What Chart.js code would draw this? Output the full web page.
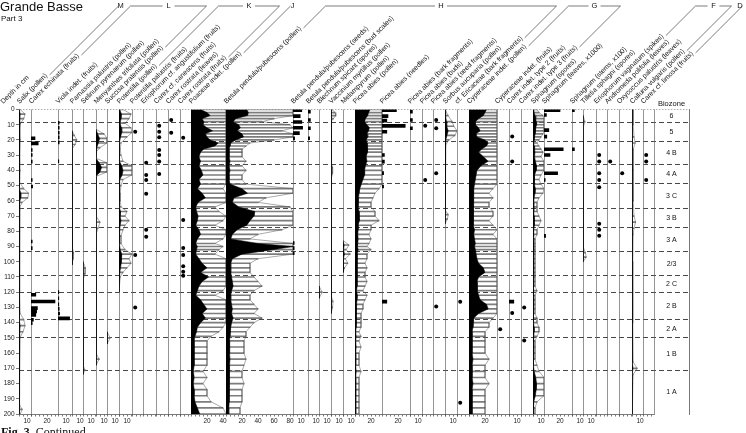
<!DOCTYPE html>
<html>
<head>
<meta charset="utf-8">
<title>Grande Basse - Part 3</title>
<script src="https://cdn.jsdelivr.net/npm/chart.js@4.4.1/dist/chart.umd.min.js"></script>
<style>
  html, body { margin: 0; padding: 0; background: #fff; }
  #wrap { position: relative; width: 746px; height: 433px; overflow: hidden; }
  #diagram { position: absolute; left: 0; top: 0; }
  .txt { position: absolute; white-space: nowrap; color: #111; font-family: "Liberation Sans", Arial, sans-serif; line-height: 1; }
</style>
</head>
<body>
<div id="wrap">
  <canvas id="diagram" width="746" height="433"></canvas>
  <div class="txt" style="left:0;top:0;font-size:13px">Grande Basse</div>
  <div class="txt" style="left:1px;top:15px;font-size:8px">Part 3</div>
  <div class="txt" style="left:1px;top:426px;font-size:12px;font-family:'Liberation Serif',serif"><b>Fig. 3</b>&nbsp; Continued</div>
</div>
<script>
// ---- pollen sample depths (cm) and the main pollen curves (%) ----
const pollenDepth = [0,2,4,6,8,10,12,14,16,18,20,22,24,26,28,31,34,37,40,43,46,49,52,55,58,61,64,67,70,73,76,79,82,85,88,90,92,95,98,101,104,107,110,113,116,119,122,125,128,131,134,137,140,143,146,149,152,156,160,164,168,172,176,180,184,188,192,196,200];
const poaceae = [12,20,24,14,16,15,20,27,18,20,24,34,30,16,12, 10,12,10,13,15,10,12,8,14,18,9,6,7,9,8,6,10,12,8,6, 8,7,6,10,14,20,12,22,14,10,8,6,12,16,20,14,18,12,8,7,5,4, 4,4,4,4,3,4,3,4,4,5,8,11];
const betula = [26,28,27,12,9,16,18,14,20,22,12,6,5,4,4, 4,5,4,5,4,4,5,20,27,10,8,16,36,35,30,26,14,8,6,40, 84,60,20,8,6,6,6,7,8,9,7,6,6,7,8,7,9,7,6,5,5,4.5, 4.5,4.5,5,4.5,4,4,4.5,4,4,4,3.5,3.5];
const picea = [19,17,16,13,12,15,18,17,15,16,14,15,16,15,16, 14,15,13,12,12,10,8,6,5,4.5,4,4,5,5,6,4,4,3.5,4,3.5, 3,4,3,3,2.5,3,2.5,2.5,3,2.5,2,3,2.5,2,2,1.5,1.5,1.5,1.5,1,1.5,1, 1.5,1,1,1,1.5,1,1,1,1,1,1,1];
const cyperaceae = [22,20,18,12,8,8,12,14,9,10,20,24,22,16,12, 18,24,15,10,9,8,7,6,5,6,5,5,6,6,5,6,7,6,7,8, 7,8,9,10,12,18,20,12,10,11,10,12,14,22,24,12,6,5,5,4,4,4, 4,4,5,4,4,4,5,4,4,4,4,4];
const sphagnumSpores = [1,1.5,2.5,3.5,4,4.5,3.5,3,2.5,2,1.5,1,1.5,2,2.5, 2,3,4.5,4,2,1.5,2,3,2.5,1.5,1,1,1,1.5,2,1.5,1,1,0.5,0.5, 0.5,0.5,0.5,0.5,0.5,0.5,0.5,0.5,0.5,0.5,1,0.5,0.5,0.5,0.5,0.5,1,1,1.5,1.5,1,0.5, 0.5,0.5,0.5,1,1.5,3.5,4.5,4,3,1,0.5,0.5];

// ---- minor pollen / spore curves (own sample depths, %) ----
const salixDepth = [0,3,6,9,12,20,30,40,48,52,55,58,61,64,80,100,120,134,138,142,146,150,160,180,194,197,200];
const salixPct = [0.3,1.5,1.2,0.4,0.2,0.3,0.2,0.3,0.2,1.2,2.4,2.2,0.8,0.2,0.2,0.1,0.2,0.3,1.2,1.5,1,0.2,0.1,0.1,0.2,0.8,0.3];
const parnassiaDepth = [14,17,20,23,26,90,94,98,102];
const parnassiaPct = [0,0.6,1.2,0.8,0,0,0.4,0.3,0];
const selinumDepth = [100,104,108,112,168,171,174];
const selinumPct = [0,0.6,0.5,0,0,0.5,0];
const menyanthesDepth = [13,16,19,22,25,28,32,35,38,41,44,70,74,78,82,160,164,168];
const menyanthesPct = [0,2,4.5,3,1,0,0,4,7,5,0,0,1,0.5,0,0,0.8,0];
const succisaDepth = [146,150,154];
const succisaPct = [0,0.8,0];
const potentillaDepth = [0,3,6,9,12,15,18,22,26,30,34,37,40,43,46,50,55,60,64,67,70,73,76,79,83,88,92,95,98,101,104,107,110,120];
const potentillaPct = [1,3,2.5,1.5,3,3.5,2,0.5,0.3,0.5,1,3.5,5,4,1,0.5,0.3,0.3,0.5,2,1.5,2.5,1.5,1,0.5,0.5,1.5,3.5,2.5,3,2,1,0.3,0];
const blechnumDepth = [116,120,124];
const blechnumPct = [0,0.8,0];
const vacciniumDepth = [0,2,4,6,8,34,38,42,46,122,126,130,134];
const vacciniumPct = [0.3,1,1.2,0.6,0,0,0.4,0.4,0,0,0.5,0.4,0];
const melampyrumDepth = [86,89,92,95,98,101,104,107];
const melampyrumPct = [0,1.5,0.8,1.8,0.6,1.2,0.4,0];
const sorbusDepth = [0,4,8,11,14,17,20,24,66,69,72,75];
const sorbusPct = [0,0.8,1.8,2.2,4,2.5,1,0,0,0.8,0.6,0];
const tilletiaDepth = [4,8,12,90,94,97,100];
const tilletiaPct = [0,0.5,0,0,0.6,0.8,0];
const callunaDepth = [0,10,18,22,26,40,60,70,74,78,82,100,140,166,170,174,180,200];
const callunaPct = [0.3,0.3,0.5,0.8,0.3,0.3,0.3,0.5,0.9,0.5,0.3,0.2,0.2,0.3,1.3,0.3,0.2,0.1];

// ---- macrofossil counts (bars) ----
const echinataDepth = [18.9,22.2,26.6,29.9,34.2,46.3,50.6,86.7,91,121.7,126.1,130.5,132.7,134.9,138.1,140.3];
const echinataCount = [5,9,1.5,1.5,1.5,1.5,2,1.5,1.5,6,30,8,7,6,3,1.5];
const violaDepth = [8.7,12,15.3,18.3,21.6,34,120,124,128,131,134,137.2];
const violaCount = [1.5,1.5,1.5,1.5,1.5,1,1,1,1,1.5,2,14.5];
const betulaSeedDepth = [0.5,4.3,8.2,12,15.5,19,87.7,91,94.4];
const betulaSeedCount = [11,9,11,12,8,2,1.5,1.5,1.5];
const budScaleDepth = [1.4,6.9,12.3,18.9];
const budScaleCount = [3,3,3,2];
const needleDepth = [0.5,4.3,7.3,10.8,14.6,29.9,34.2,41.8,50.6,126.2];
const needleCount = [18,7.5,6,29,6,3,3,2,2,6];
const barkDepth = [1.4,6.9,12.3];
const barkCount = [3,3,3];
const carex2Depth = [126.2];
const carex2Count = [6];
const sphLeafDepth = [0.5,3.6,13.5,17.8,26.1,29.9,41.9,46.3,83];
const sphLeafCount = [20,3,6,3.5,24,7.5,17,1.5,2];
const sphStemDepth = [0.5,26.1];
const sphStemCount = [3,3];

// ---- macrofossil presence (dots), depths ----
const potPalDots = [14.6,95.5,130];
const erioAngDots = [34.9,43,46.3,55.4,79,83.5];
const canescensDots = [10.6,14.6,18.3,26.6,29.9,34.2,42.3];
const rostrataLeafDots = [6.9,15.2];
const rostrataFruitDots = [18.5,72.5,91,95.5,103,106.5,109.2];
const piceaBudDots = [10.6,46.3];
const piceaSeedDots = [6.9,12.3,41.9,129.4];
const ericaceaeDots = [126.2,192.6];
const cypFruitDots = [144.3];
const carex2Dots = [17.8,34.2,133.6];
const carex3Dots = [130,151.7];
const erioVagDots = [29.9,34.2,41.9,46.3,51,75.1,79,83];
const andromedaDots = [34.2];
const oxycoccusDots = [41.9];
const limosaDots = [29.9,34.2,46.3];
const presence = 4; // presence-only finds sit at a nominal 4 on the count scale

// ---- columns, tick labels, zones, groups ----
const taxa = [
  "Salix (pollen)", "Carex echinata (fruits)", "Viola indet. (fruits)", "Parnassia palustris (pollen)",
  "Selinum pyrenaeum (pollen)", "Menyanthes trifoliata (pollen)", "Succisa pratensis (pollen)", "Potentilla (pollen)",
  "Potentilla palustris (fruits)", "Eriophorum cf. angustifolium (fruits)", "Carex cf. canescens (fruits)",
  "Carex rostrata (leaves)", "Carex rostrata (fruits)", "Poaceae indet. (pollen)", "Betula pendula/pubescens (pollen)",
  "Betula pendula/pubescens (seeds)", "Betula pendula/pubescens (bud scales)", "Blechnum spicant (spores)",
  "Vaccinium myrtillus (pollen)", "Melampyrum (pollen)", "Picea abies (pollen)", "Picea abies (needles)",
  "Picea abies (bark fragments)", "Picea abies (buds)", "Picea abies (seed fragments)", "Sorbus aucuparia (pollen)",
  "cf. Ericaceae (bark fragments)", "Cyperaceae indet. (pollen)", "Cyperaceae indet. (fruits)",
  "Carex indet. type 2 (fruits)", "Carex indet. type 3 (fruits)", "Sphagnum (spores)", "Sphagnum (leaves, x1000)",
  "Sphagnum (stems, x100)", "Tilletia sphagni (spores)", "Eriophorum vaginatum (spikes)", "Andromeda polifolia (leaves)",
  "Oxycoccus palustris (leaves)", "Calluna vulgaris (pollen)", "Carex cf. limosa (fruits)"
];
const colWidths = [12,27,14,11,13,11,12,13,11,13,12,12,11,35,67,15,11,12,12,12,27,28,12,11,12,12,12,28,12,12,12,11,28,11,13,11,12,13,11,11];
const bioWidth = 35;
const tickLabels = [[10],[20],[10],[10],[10],[10],[10],[10],[],[],[],[],[],[20,40],[20,40,60,80],[10],[10],[10],[10],[10],[20],[20],[10],[],[],[10],[],[20],[],[10],[],[10],[20],[10],[10],[],[],[],[10],[]];
const zoneBounds = [8.7,20.7,36.4,48.9,65.3,77.6,93.5,109,120.4,138,150,171.4];
const zoneNames = ['6','5','4 B','4 A','3 C','3 B','3 A','2/3','2 C','2 B','2 A','1 B','1 A'];
const groups = [
  {letter: 'M', first: 0, last: 0}, {letter: 'L', first: 1, last: 6}, {letter: 'K', first: 7, last: 12},
  {letter: 'J', first: 13, last: 13}, {letter: 'H', first: 14, last: 26}, {letter: 'G', first: 27, last: 30},
  {letter: 'F', first: 35, last: 38}, {letter: 'D', first: 39, last: 39}
];

const unitPx = 0.8;      // 1 % (or 1 find) = 0.8 px in every column
const exaggeration = 5;

const pollenCols = {
  0: [salixDepth, salixPct], 3: [parnassiaDepth, parnassiaPct], 4: [selinumDepth, selinumPct],
  5: [menyanthesDepth, menyanthesPct], 6: [succisaDepth, succisaPct], 7: [potentillaDepth, potentillaPct],
  13: [pollenDepth, poaceae], 14: [pollenDepth, betula], 17: [blechnumDepth, blechnumPct],
  18: [vacciniumDepth, vacciniumPct], 19: [melampyrumDepth, melampyrumPct], 20: [pollenDepth, picea],
  25: [sorbusDepth, sorbusPct], 27: [pollenDepth, cyperaceae], 31: [pollenDepth, sphagnumSpores],
  34: [tilletiaDepth, tilletiaPct], 38: [callunaDepth, callunaPct]
};
const barCols = {
  1: [echinataDepth, echinataCount], 2: [violaDepth, violaCount], 15: [betulaSeedDepth, betulaSeedCount],
  16: [budScaleDepth, budScaleCount], 21: [needleDepth, needleCount], 22: [barkDepth, barkCount],
  29: [carex2Depth, carex2Count], 32: [sphLeafDepth, sphLeafCount], 33: [sphStemDepth, sphStemCount]
};
const dotCols = {
  8: potPalDots, 9: erioAngDots, 10: canescensDots, 11: rostrataLeafDots, 12: rostrataFruitDots,
  23: piceaBudDots, 24: piceaSeedDots, 26: ericaceaeDots, 28: cypFruitDots, 29: carex2Dots,
  30: carex3Dots, 35: erioVagDots, 36: andromedaDots, 37: oxycoccusDots, 39: limosaDots
};

Chart.defaults.font.family = '"Liberation Sans", Arial, sans-serif';
Chart.defaults.color = '#222';

const datasets = [];
const colMax = i => colWidths[i] / unitPx;

Object.entries(pollenCols).forEach(([i, [depths, vals]]) => {
  const id = 'x' + i;
  const cap = colMax(i);
  const curve = depths.map((d, k) => ({x: vals[k], y: d}));
  const exag = depths.map((d, k) => ({x: Math.min(vals[k] * exaggeration, cap), y: d}));
  datasets.push({type: 'line', xAxisID: id, yAxisID: 'y', data: curve, borderColor: '#000', borderWidth: 0.5,
    backgroundColor: '#000', fill: 'origin', pointRadius: 0, tension: 0, order: 1});
  datasets.push({type: 'line', xAxisID: id, yAxisID: 'y', data: exag, borderColor: '#555', borderWidth: 0.5,
    fill: false, pointRadius: 0, tension: 0, order: 2});
  datasets.push({type: 'bar', xAxisID: id, yAxisID: 'y', data: exag, backgroundColor: '#7d7d7d',
    barThickness: 1, grouped: false, order: 3});
});

Object.entries(barCols).forEach(([i, [depths, counts]]) => {
  datasets.push({type: 'bar', xAxisID: 'x' + i, yAxisID: 'y', data: depths.map((d, k) => ({x: counts[k], y: d})),
    backgroundColor: '#000', barThickness: 3, grouped: false, order: 0});
});

Object.entries(dotCols).forEach(([i, depths]) => {
  datasets.push({type: 'line', xAxisID: 'x' + i, yAxisID: 'y', data: depths.map(d => ({x: presence, y: d})),
    showLine: false, pointRadius: 2, pointBorderWidth: 0, pointBackgroundColor: '#000', order: 0});
});

const scales = {
  y: {
    type: 'linear', position: 'left', reverse: true, min: 0, max: 200, offset: false,
    afterBuildTicks: s => { s.ticks = Array.from({length: 21}, (_, k) => ({value: k * 10})); },
    afterFit: s => { s.width = 19; },
    ticks: {autoSkip: false, padding: 1.5, font: {size: 6.5}, color: '#222'},
    grid: {offset: false, drawOnChartArea: true, color: c => (c.tick && c.tick.value === 0) ? '#888' : 'rgba(0,0,0,0)',
      tickColor: '#444', tickLength: 3, lineWidth: 0.7},
    border: {color: '#444', width: 0.8, dash: [1.5, 1.5]}
  },
  zones: {
    type: 'linear', position: 'right', reverse: true, min: 0, max: 200, offset: false,
    afterBuildTicks: s => { s.ticks = zoneBounds.map(v => ({value: v})); },
    afterFit: s => { s.width = 0; },
    ticks: {display: false},
    grid: {drawOnChartArea: true, drawTicks: false, color: '#333', lineWidth: 0.9},
    border: {display: true, color: '#555', width: 0.8, dash: [5, 3]}
  }
};

taxa.forEach((_, i) => {
  const max = colMax(i);
  scales['x' + i] = {
    type: 'linear', position: 'bottom', stack: 'columns', stackWeight: colWidths[i], min: 0, max, offset: false,
    afterBuildTicks: s => {
      const t = [];
      for (let k = 0; k * 5 <= max + 1e-6; k++) t.push({value: k * 5});
      s.ticks = t;
    },
    afterFit: s => { s.height = 14; },
    ticks: {autoSkip: false, maxRotation: 0, padding: 1, font: {size: 6.5}, color: '#222',
      callback: v => tickLabels[i].includes(v) ? String(v) : ''},
    grid: {drawOnChartArea: true, color: c => (c.tick && c.tick.value === 0) ? '#666' : 'rgba(0,0,0,0)',
      lineWidth: 0.7, tickColor: '#444', tickLength: 2.5, tickWidth: 0.7},
    border: {color: '#444', width: 0.7}
  };
});
scales.xBio = {
  type: 'linear', position: 'bottom', stack: 'columns', stackWeight: bioWidth, min: 0, max: 1,
  afterBuildTicks: s => { s.ticks = [{value: 0}]; },
  afterFit: s => { s.height = 14; },
  ticks: {display: false},
  grid: {drawOnChartArea: true, drawTicks: false, color: '#666', lineWidth: 0.7},
  border: {display: false}
};

// rotated taxon labels, group brackets, biozone labels
const headerPlugin = {
  id: 'header',
  afterDraw(chart) {
    const ctx = chart.ctx;
    const r = Math.SQRT1_2;
    ctx.save();
    ctx.fillStyle = '#111';
    ctx.font = '6.9px "Liberation Sans", Arial, sans-serif';
    ctx.textBaseline = 'alphabetic';
    ctx.textAlign = 'left';
    const ends = taxa.map((name, i) => {
      const ox = chart.scales['x' + i].left + 0.5, oy = 104;
      ctx.save(); ctx.translate(ox, oy); ctx.rotate(-Math.PI / 4); ctx.fillText(name, 0, 0); ctx.restore();
      const w = ctx.measureText(name).width;
      return {ex: ox + w * r, ey: oy - w * r};
    });
    ctx.save(); ctx.translate(3.3, 104); ctx.rotate(-Math.PI / 4); ctx.fillText('Depth in cm', 0, 0); ctx.restore();

    const top = 6;
    ctx.strokeStyle = '#222';
    ctx.lineWidth = 0.6;
    const seg = (x1, y1, x2, y2) => { ctx.beginPath(); ctx.moveTo(x1, y1); ctx.lineTo(x2, y2); ctx.stroke(); };
    const diag = e => {
      const sx = e.ex + 2, sy = e.ey - 1;
      const tx = sx + (sy - top);
      seg(sx, sy, tx, top);
      return tx;
    };
    ctx.font = '7.5px "Liberation Sans", Arial, sans-serif';
    ctx.textAlign = 'center';
    ctx.textBaseline = 'middle';
    groups.forEach(g => {
      const xa = diag(ends[g.first]);
      if (g.first === g.last) {
        ctx.fillText(g.letter, Math.min(xa + 2, 740), top);
      } else {
        const xb = diag(ends[g.last]);
        const mid = (xa + xb) / 2;
        seg(xa, top, mid - 6, top);
        seg(mid + 6, top, xb, top);
        ctx.fillText(g.letter, mid, top);
      }
    });

    const bio = chart.scales.xBio;
    const yS = chart.scales.y;
    const cx = (bio.left + bio.right) / 2;
    ctx.font = '7.5px "Liberation Sans", Arial, sans-serif';
    ctx.fillText('Biozone', cx, 104);
    ctx.font = '7px "Liberation Sans", Arial, sans-serif';
    zoneNames.forEach((z, i) => {
      const a = i === 0 ? 0 : zoneBounds[i - 1];
      const b = i === zoneNames.length - 1 ? 200 : zoneBounds[i];
      ctx.fillText(z, cx, yS.getPixelForValue((a + b) / 2));
    });
    ctx.restore();
  }
};

new Chart(document.getElementById('diagram'), {
  type: 'line',
  data: {datasets},
  options: {
    indexAxis: 'y',
    responsive: false,
    devicePixelRatio: 1,
    animation: false,
    events: [],
    layout: {padding: {left: 0, right: 57, top: 109.5, bottom: 5}},
    scales,
    plugins: {legend: {display: false}, tooltip: {enabled: false}, title: {display: false}}
  },
  plugins: [headerPlugin]
});
</script>
</body>
</html>
